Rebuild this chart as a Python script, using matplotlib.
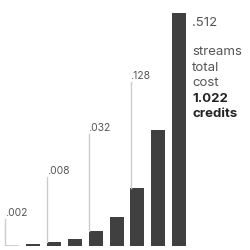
import numpy as np
import matplotlib
matplotlib.use('Agg')
import matplotlib.pyplot as plt

# cost per stream, doubling each time
costs = [0.002, 0.004, 0.008, 0.016, 0.032, 0.064, 0.128, 0.256, 0.512]
labels = ['.002', '', '.008', '', '.032', '', '.128', '', '.512']
total_lines = ['streams', 'total', 'cost']
total_bold = ['1.022', 'credits']

# label heights above the bottom, in pixels
label_px = [27, 0, 69, 0, 112, 0, 164, 0, 0]

plt.rcParams['font.family'] = ['Inter', 'DejaVu Sans']

fig = plt.figure(figsize=(2.5, 2.5), dpi=100)
ax = fig.add_axes([0, 0, 1, 1])
ax.axis('off')

pitch = 20.9
px_per = 233 / 0.512
ax.set_xlim(-12 / pitch, (250 - 12) / pitch)
ax.set_ylim(-4 / px_per, 246 / px_per)

w = 14 / pitch
x = np.arange(len(costs))
colors = ['#d0d0d0'] + ['#404040'] * (len(costs) - 1)
ax.bar(x, costs, width=w, color=colors, linewidth=0)

for i, lab in enumerate(labels):
    if not lab or i == len(costs) - 1:
        continue
    lx = x[i] - w / 2 + 0.5 / pitch
    ly = label_px[i] / px_per
    ax.plot([lx, lx], [costs[i], ly], color='#cccccc', lw=1)
    ax.text(lx - 0.5 / pitch, ly + 1 / px_per, lab, fontsize=7.5, color='#555555',
            ha='left', va='bottom')

# top bar label and total text
tx = x[-1] + w / 2 + 6 / pitch
ax.text(tx, 0.512 - 4 / px_per, labels[-1], fontsize=9.5, color='#555555',
        ha='left', va='top')
y0 = 0.512 - 33 / px_per
for k, t in enumerate(total_lines + total_bold):
    bold = t in total_bold
    ax.text(tx, y0 - k * 15.5 / px_per, t, fontsize=9.5,
            color='#222222' if bold else '#555555',
            fontweight='bold' if bold else 'normal', ha='left', va='top')

fig.savefig('out.png', dpi=100)
